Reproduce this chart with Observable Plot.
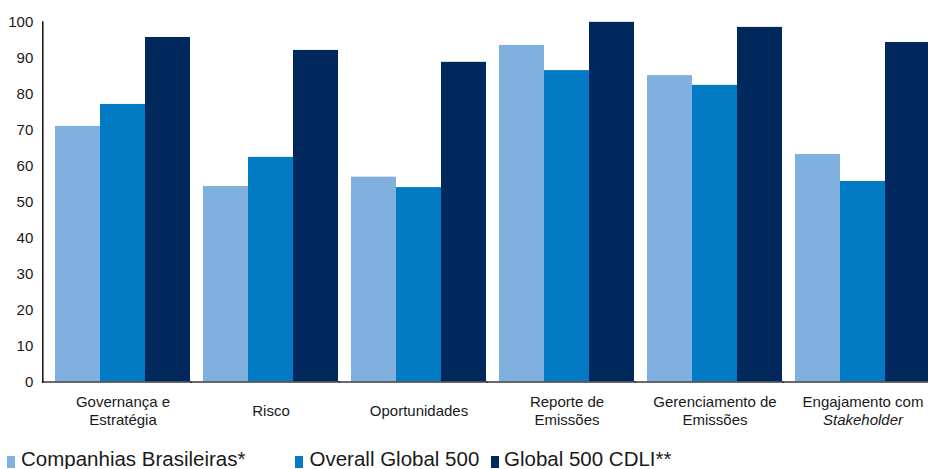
<!DOCTYPE html>
<html>
<head>
<meta charset="utf-8">
<script src="https://cdn.jsdelivr.net/npm/d3@7"></script>
<script src="https://cdn.jsdelivr.net/npm/@observablehq/plot@0.6"></script>
<style>
  html, body { margin: 0; padding: 0; background: #fff; overflow: hidden; width: 928px; height: 469px; }
  #chart svg { overflow: hidden; display: block; }
  #legend { position: relative; width: 928px; height: 29px; overflow: hidden; font-family: "Liberation Sans", Arial, sans-serif; font-size: 20.5px; color: #1a1a1a; }
  #legend .sw { position: absolute; top: 16px; width: 8px; height: 12px; }
  #legend .lb { position: absolute; top: 7px; line-height: 23px; white-space: nowrap; }
</style>
</head>
<body>
<div id="chart"></div>
<div id="legend"></div>
<script>
const categories = [
  "Governança e\nEstratégia",
  "Risco",
  "Oportunidades",
  "Reporte de\nEmissões",
  "Gerenciamento de\nEmissões",
  "Engajamento com\nStakeholder"
];
const series = ["Companhias Brasileiras*", "Overall Global 500", "Global 500 CDLI**"];
const brasileiras = [71.0, 54.3, 56.9, 93.5, 85.1, 63.2];
const overall500 = [77.1, 62.4, 54.0, 86.5, 82.4, 55.7];
const cdli500 = [95.7, 92.1, 88.8, 99.9, 98.5, 94.3];
const colors = ["#7fb0de", "#027bc4", "#00285c"];
const yTicks = [0, 10, 20, 30, 40, 50, 60, 70, 80, 90, 100];

const seriesValues = [brasileiras, overall500, cdli500];
const data = [];
categories.forEach((c, i) => {
  series.forEach((s, j) => data.push({category: c, series: s, value: seriesValues[j][i]}));
});

const chart = Plot.plot({
  width: 928,
  height: 440,
  marginTop: 21.5,
  marginBottom: 58.5,
  marginLeft: 42,
  marginRight: 0,
  style: {fontFamily: "'Liberation Sans', Arial, sans-serif", color: "#1a1a1a", background: "#fff"},
  fx: {domain: categories, range: [47.6, 938], paddingInner: 11.4 / 148.4, paddingOuter: 5.7 / 148.4, axis: null, label: null},
  x: {domain: series, padding: 0, axis: null},
  y: {domain: [0, 100], label: null},
  color: {domain: series, range: colors},
  marks: [
    Plot.barY(data, {fx: "category", x: "series", y: "value", fill: "series"}),
    Plot.frame({anchor: "bottom", insetLeft: -12, stroke: "#3a3a3a", strokeWidth: 1.5}),
    Plot.frame({anchor: "left", facetAnchor: "left", dx: -11.7, stroke: "#111", strokeWidth: 1.5}),
    Plot.axisY({ticks: yTicks, tickSize: 0, tickPadding: 9.5, dx: -11.7, fontSize: 15, label: null, facetAnchor: "left"}),
    Plot.text(categories, {fx: d => d, text: d => d, frameAnchor: "bottom", dy: 28, lineAnchor: "middle", fontSize: 15, lineHeight: 1.22, fill: "#1a1a1a"})
  ]
});
document.getElementById("chart").appendChild(chart);
chart.querySelectorAll("tspan").forEach(t => { if (t.textContent === "Stakeholder") t.setAttribute("font-style", "italic"); });

const legendPos = [{sw: 7, lb: 21}, {sw: 295, lb: 309.5}, {sw: 491, lb: 504}];
const legend = document.getElementById("legend");
series.forEach((s, j) => {
  const sw = document.createElement("div");
  sw.className = "sw";
  sw.style.left = legendPos[j].sw + "px";
  sw.style.background = colors[j];
  legend.appendChild(sw);
  const lb = document.createElement("div");
  lb.className = "lb";
  lb.style.left = legendPos[j].lb + "px";
  lb.textContent = s;
  legend.appendChild(lb);
});
</script>
</body>
</html>
